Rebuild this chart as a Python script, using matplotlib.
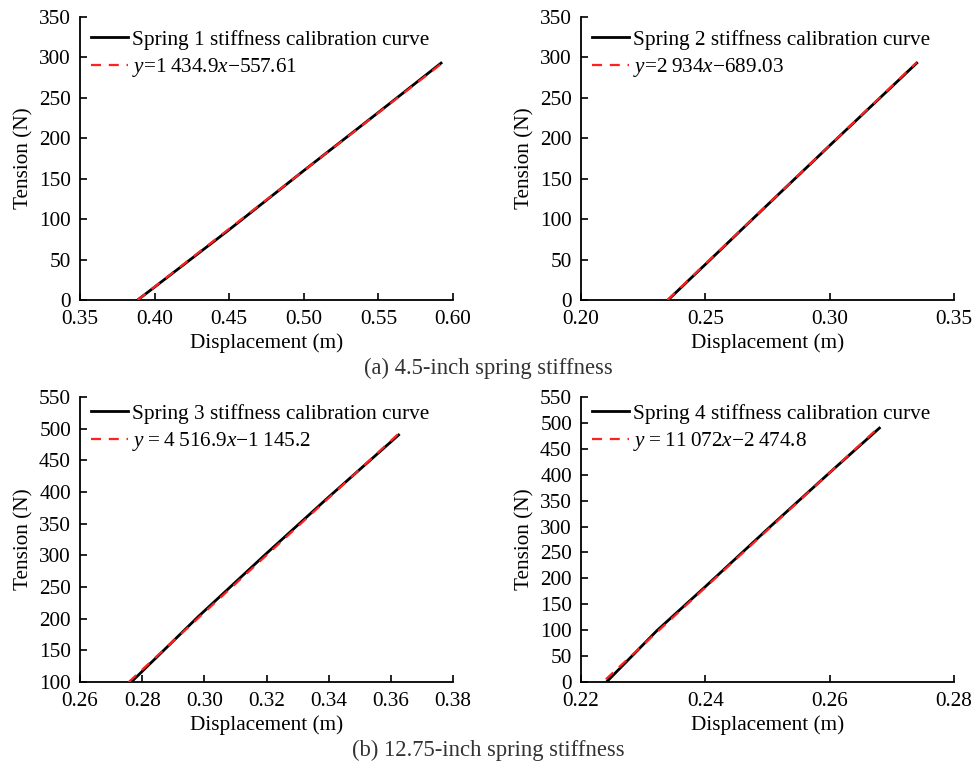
import matplotlib
matplotlib.use("Agg")
import matplotlib.pyplot as plt

plt.rcParams['font.family'] = ['Liberation Serif', 'DejaVu Serif']
plt.rcParams['mathtext.fontset'] = 'custom'
plt.rcParams['mathtext.rm'] = 'Liberation Serif'
plt.rcParams['mathtext.it'] = 'Liberation Serif:italic'

# ---- data ----
s1_x = [0.3886, 0.40, 0.45, 0.50, 0.55, 0.592]
s1_y = [0, 16, 87, 160, 232, 293]
f1_x = [0.3886, 0.592]
f1_y = [0, 291.9]

s2_x = [0.2350, 0.25, 0.27, 0.30, 0.335]
s2_y = [0, 44, 103, 191, 293]
f2_x = [0.2348, 0.335]
f2_y = [0, 293.9]

s3_x = [0.2765, 0.298, 0.32, 0.34, 0.3625]
s3_y = [100, 203, 303, 392, 490]
f3_x = [0.2757, 0.3625]
f3_y = [100, 492.2]

s4_x = [0.2241, 0.2322, 0.24, 0.25, 0.26, 0.268]
s4_y = [0, 99, 184, 295, 404, 490]
f4_x = [0.2240, 0.268]
f4_y = [5.3, 492.5]

labels_curve = ["Spring 1 stiffness calibration curve",
                "Spring 2 stiffness calibration curve",
                "Spring 3 stiffness calibration curve",
                "Spring 4 stiffness calibration curve"]
labels_fit = ["$y$=1\u2009434.9$x$\u2212557.61",
              "$y$=2\u2009934$x$\u2212689.03",
              "$y$\u2009=\u20094\u2009516.9$x$\u22121\u2009145.2",
              "$y$\u2009=\u200911\u2009072$x$\u22122\u2009474.8"]

xlims = [(0.35, 0.60), (0.20, 0.35), (0.26, 0.38), (0.22, 0.28)]
xticks = [[0.35, 0.40, 0.45, 0.50, 0.55, 0.60],
          [0.20, 0.25, 0.30, 0.35],
          [0.26, 0.28, 0.30, 0.32, 0.34, 0.36, 0.38],
          [0.22, 0.24, 0.26, 0.28]]
ylims = [(0, 350), (0, 350), (100, 550), (0, 550)]
yticks = [list(range(0, 351, 50)), list(range(0, 351, 50)),
          list(range(100, 551, 50)), list(range(0, 551, 50))]

captions = ["(a) 4.5-inch spring stiffness", "(b) 12.75-inch spring stiffness"]

series = [(s1_x, s1_y, f1_x, f1_y), (s2_x, s2_y, f2_x, f2_y),
          (s3_x, s3_y, f3_x, f3_y), (s4_x, s4_y, f4_x, f4_y)]

fig = plt.figure(figsize=(9.76, 7.64), dpi=100)
W, H = 976, 764
boxes = [(80, 17, 453, 300), (581, 17, 954, 300),
         (80, 397, 453, 682), (581, 397, 954, 682)]
leg_y = [0.955, 0.955, 0.976, 0.976]

FS = 15.3
for i, (l, t, r, b) in enumerate(boxes):
    ax = fig.add_axes([l / W, 1 - b / H, (r - l) / W, (b - t) / H])
    sx, sy, fx, fy = series[i]
    ax.plot(sx, sy, color='black', lw=2.0, label=labels_curve[i], zorder=2)
    ax.plot(fx, fy, color='#ff2020', lw=1.6, ls=(0, (4.5, 3.5)), label=labels_fit[i], zorder=3)
    ax.set_xlim(*xlims[i])
    ax.set_ylim(*ylims[i])
    ax.set_xticks(xticks[i])
    ax.set_xticklabels([f"{v:.2f}" for v in xticks[i]])
    ax.set_yticks(yticks[i])
    ax.spines['top'].set_visible(False)
    ax.spines['right'].set_visible(False)
    for s in ('left', 'bottom'):
        ax.spines[s].set_linewidth(1.3)
    ax.tick_params(direction='in', length=5, width=1.2, labelsize=FS)
    ax.tick_params(axis='x', pad=7.5)
    ax.tick_params(axis='y', pad=6.5)
    ax.set_xlabel("Displacement (m)", fontsize=FS, labelpad=3)
    ax.set_ylabel("Tension (N)", fontsize=FS, labelpad=4)
    ax.legend(loc='upper left', frameon=False, fontsize=FS,
              handlelength=1.75, handletextpad=0.2, labelspacing=0.3,
              borderaxespad=0.0, borderpad=0.0,
              bbox_to_anchor=(0.029, leg_y[i]))

fig.text(488 / W, 1 - 368 / H, captions[0], ha='center', va='center',
         fontsize=16.3, color='#333333')
fig.text(488 / W, 1 - 750 / H, captions[1], ha='center', va='center',
         fontsize=16.3, color='#333333')

fig.savefig("out.png", dpi=100)
